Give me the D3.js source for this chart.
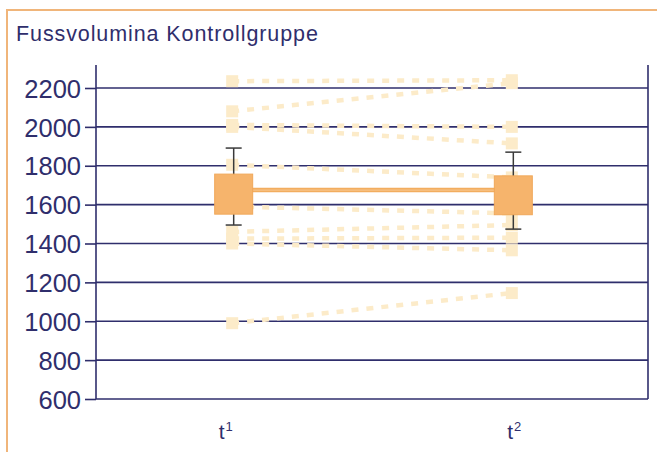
<!DOCTYPE html>
<html>
<head>
<meta charset="utf-8">
<script src="https://cdn.jsdelivr.net/npm/d3@7"></script>
<style>
  html, body { margin: 0; padding: 0; background: #fff; }
  svg { display: block; }
</style>
</head>
<body>
<script>
// ---- data ----
const categories = ["t¹", "t²"];
const yTicks = [600, 800, 1000, 1200, 1400, 1600, 1800, 2000, 2200];
// individual subjects: value at t1 and t2
const subjectT1 = [2235, 2080, 2010, 2000, 1805, 1590, 1460, 1425, 1400, 990];
const subjectT2 = [2240, 2225, 2000, 1915, 1740, 1555, 1495, 1430, 1365, 1145];
// group summary per time point
const boxLow = [1551, 1548];
const boxHigh = [1757, 1748];
const whiskerLow = [1495, 1474];
const whiskerHigh = [1891, 1870];
const meanLine = [1675, 1675];

(function () {
const W = 657, H = 452;
const navy = "#2f2e6c";
const font = "Liberation Sans, Arial, sans-serif";
const svg = d3.select("body").append("svg").attr("width", W).attr("height", H);

// page frame
svg.append("path")
  .attr("d", `M7,452 L7,10 L660,10`)
  .attr("fill", "none").attr("stroke", "#f0b57a").attr("stroke-width", 2);

// title
svg.append("text")
  .attr("x", 16).attr("y", 41)
  .attr("font-family", font)
  .attr("font-size", 21.5)
  .attr("letter-spacing", 0.9)
  .attr("fill", navy)
  .text("Fussvolumina Kontrollgruppe");

const pLeft = 96, pRight = 648, pTop = 65, pBottom = 399;
const y = d3.scaleLinear().domain([600, 2200]).range([pBottom, 88]);
const x = d3.scalePoint().domain(categories).range([pLeft, pRight]).padding(0.487);

// gridlines
svg.append("g").selectAll("line").data(yTicks).join("line")
  .attr("x1", pLeft).attr("x2", pRight)
  .attr("y1", d => y(d)).attr("y2", d => y(d))
  .attr("stroke", navy).attr("stroke-width", 1.6);

// y axis
const yAxis = d3.axisLeft(y).tickValues(yTicks).tickSize(11).tickPadding(4).tickFormat(d3.format("d"));
const gy = svg.append("g").attr("transform", `translate(${pLeft},0)`).call(yAxis);
gy.select(".domain").remove();
gy.selectAll(".tick line").attr("stroke", navy).attr("stroke-width", 1.6);
gy.selectAll(".tick text")
  .attr("font-family", font)
  .attr("font-size", 25.5).attr("fill", navy).attr("dy", "0.36em");

// vertical axis lines
svg.append("line").attr("x1", pLeft).attr("x2", pLeft).attr("y1", pTop).attr("y2", pBottom)
  .attr("stroke", navy).attr("stroke-width", 1.6);
svg.append("line").attr("x1", pRight).attr("x2", pRight).attr("y1", pTop).attr("y2", pBottom)
  .attr("stroke", navy).attr("stroke-width", 1.6);

// x labels (t with real superscript)
const xShift = [-7, 2];
const xAxis = d3.axisBottom(x).tickSize(0).tickPadding(0).tickFormat(() => "");
const gx = svg.append("g").attr("transform", `translate(0,${pBottom})`).call(xAxis);
gx.select(".domain").remove();
gx.selectAll(".tick text").each(function (d, i) {
  const t = d3.select(this)
    .attr("font-family", font).attr("font-size", 21).attr("fill", navy)
    .attr("y", 40).attr("dy", 0).attr("dx", xShift[i]);
  t.append("tspan").text(d.slice(0, 1));
  t.append("tspan").attr("font-size", 13).attr("dy", -8).attr("dx", 1)
    .text(d.slice(1) === "¹" ? "1" : "2");
});

// individual dashed lines
const cream = "#fcebc9";
const pairs = subjectT1.map((v, i) => [v, subjectT2[i]]);
const line = d3.line().x((d, i) => x(categories[i])).y(d => y(d));
svg.append("g").selectAll("path").data(pairs).join("path")
  .attr("d", d => line(d))
  .attr("fill", "none").attr("stroke", cream).attr("stroke-width", 4.5)
  .attr("stroke-dasharray", "7,8");

// individual squares
const pts = [];
pairs.forEach(p => p.forEach((v, i) => pts.push({c: categories[i], v})));
svg.append("g").selectAll("rect").data(pts).join("rect")
  .attr("x", d => x(d.c) - 6).attr("y", d => y(d.v) - 6)
  .attr("width", 12).attr("height", 12)
  .attr("fill", cream);

// whiskers
const wg = svg.append("g");
categories.forEach((c, i) => {
  const cx = x(c) + 1.5;
  wg.append("line").attr("x1", cx).attr("x2", cx)
    .attr("y1", y(whiskerHigh[i])).attr("y2", y(whiskerLow[i]))
    .attr("stroke", "#3a3a3a").attr("stroke-width", 1.5);
  [whiskerHigh[i], whiskerLow[i]].forEach(v => {
    wg.append("line").attr("x1", cx - 8).attr("x2", cx + 8)
      .attr("y1", y(v)).attr("y2", y(v))
      .attr("stroke", "#3a3a3a").attr("stroke-width", 1.5);
  });
});

// mean connecting line
svg.append("line")
  .attr("x1", x(categories[0])).attr("x2", x(categories[1]))
  .attr("y1", y(meanLine[0])).attr("y2", y(meanLine[1]))
  .attr("stroke", "#f2ad5f").attr("stroke-width", 4.5);
svg.append("line")
  .attr("x1", x(categories[0])).attr("x2", x(categories[1]))
  .attr("y1", y(meanLine[0])).attr("y2", y(meanLine[1]))
  .attr("stroke", "#f7c488").attr("stroke-width", 1.2);

// boxes
svg.append("g").selectAll("rect").data(categories).join("rect")
  .attr("x", (d) => x(d) + 1.5 - 19)
  .attr("y", (d, i) => y(boxHigh[i]))
  .attr("width", 38)
  .attr("height", (d, i) => y(boxLow[i]) - y(boxHigh[i]))
  .attr("fill", "#f6b46c").attr("stroke", "#f0a85a").attr("stroke-width", 1);
})();
</script>
</body>
</html>
